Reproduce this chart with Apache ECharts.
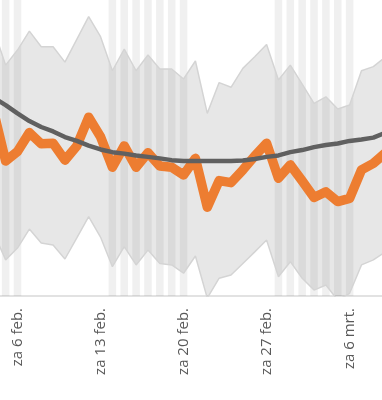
<!DOCTYPE html>
<html>
<head>
<meta charset="utf-8">
<script src="https://cdn.jsdelivr.net/npm/echarts@6/dist/echarts.min.js"></script>
<style>
  html, body { margin: 0; padding: 0; background: #fff; }
  #chart { width: 382px; height: 400px; }
</style>
</head>
<body>
<div id="chart"></div>
<script>
// dagen (4 feb t/m 9 mrt 2021)
const dates = [
  '2021-02-04', '2021-02-05', '2021-02-06', '2021-02-07', '2021-02-08', '2021-02-09',
  '2021-02-10', '2021-02-11', '2021-02-12', '2021-02-13', '2021-02-14', '2021-02-15',
  '2021-02-16', '2021-02-17', '2021-02-18', '2021-02-19', '2021-02-20', '2021-02-21',
  '2021-02-22', '2021-02-23', '2021-02-24', '2021-02-25', '2021-02-26', '2021-02-27',
  '2021-02-28', '2021-03-01', '2021-03-02', '2021-03-03', '2021-03-04', '2021-03-05',
  '2021-03-06', '2021-03-07', '2021-03-08', '2021-03-09'
];

// band: laagste en hoogste waarde
const lowValues = [
  21.3, 12.2, 16.2, 22.6, 17.9, 17.2, 12.5, 19.6, 26.8, 19.9, 9.9, 16.7,
  10.5, 15.5, 11.0, 10.5, 7.7, 13.5, -0.7, 6.0, 7.1, 11.0, 14.9, 18.9,
  6.5, 11.6, 6.0, 2.0, 3.7, -1.4, 0.9, 10.5, 12.2, 14.9
];
const highValues = [
  89.9, 78.0, 83.1, 89.5, 84.2, 84.2, 79.0, 86.7, 94.4, 87.6, 76.1, 83.4,
  76.1, 81.4, 76.7, 76.7, 73.3, 79.4, 61.7, 72.1, 70.5, 76.9, 80.8, 85.0,
  73.0, 78.0, 71.6, 65.1, 67.3, 63.2, 64.5, 76.1, 77.5, 80.7
];

// gemiddelde (grijze lijn)
const avgValues = [
  66.9, 64.5, 61.7, 59.1, 57.1, 55.6, 53.7, 52.4, 50.8, 49.5, 48.6, 48.1,
  47.5, 47.0, 46.5, 45.9, 45.6, 45.6, 45.6, 45.6, 45.6, 45.8, 46.3, 47.0,
  47.5, 48.6, 49.3, 50.3, 51.0, 51.5, 52.4, 52.9, 53.5, 55.1
];

// huidige waarde (oranje lijn)
const curValues = [
  62.2, 45.6, 48.8, 55.2, 51.4, 51.6, 45.9, 50.7, 60.4, 53.8, 43.5, 50.7,
  43.5, 48.4, 43.9, 43.5, 40.9, 46.5, 30.0, 39.0, 38.3, 42.6, 47.3, 51.6,
  39.8, 44.3, 38.9, 33.3, 35.2, 31.9, 33.0, 42.6, 44.8, 48.3
];

// gemarkeerde dagen (lichte verticale banen)
const stripeDates = [
  '2021-02-05', '2021-02-06',
  '2021-02-14', '2021-02-15', '2021-02-16', '2021-02-17', '2021-02-18', '2021-02-19', '2021-02-20',
  '2021-02-28', '2021-03-01', '2021-03-02', '2021-03-03', '2021-03-04', '2021-03-05', '2021-03-06'
];

const tickDates = ['2021-02-06', '2021-02-13', '2021-02-20', '2021-02-27', '2021-03-06'];
const tickLabels = ['za 6 feb.', 'za 13 feb.', 'za 20 feb.', 'za 27 feb.', 'za 6 mrt.'];

const origin = Date.parse('2021-02-06');
function dayOf(s) {
  return Math.round((Date.parse(s) - origin) / 86400000);
}

const tickDays = tickDates.map(dayOf);
const pairs = (vals) => dates.map((d, i) => [dayOf(d), vals[i]]);

const chart = echarts.init(document.getElementById('chart'));

// grijze band tussen laagste en hoogste waarde
function renderBand(params, api) {
  if (params.dataIndex !== 0) return;
  const top = dates.map((d, i) => api.coord([dayOf(d), highValues[i]]));
  const bottom = dates.map((d, i) => api.coord([dayOf(d), lowValues[i]])).reverse();
  return {
    type: 'polygon',
    shape: { points: top.concat(bottom) },
    style: { fill: 'rgba(0,0,0,0.095)' }
  };
}

chart.setOption({
  animation: false,
  grid: { left: 0, right: 0, top: 0, bottom: 104, outerBoundsMode: 'none' },
  xAxis: {
    type: 'value',
    min: -1.475,
    max: 30.73,
    splitLine: { show: false },
    axisTick: { show: false },
    axisLine: { lineStyle: { color: '#d9d9d9', width: 1.5 } },
    axisLabel: {
      customValues: tickDays,
      formatter: (v) => tickLabels[tickDays.indexOf(v)],
      rotate: 90,
      margin: 12,
      padding: [4, 0, 0, 0],
      fontSize: 15,
      color: '#595959',
      fontFamily: 'Open Sans'
    }
  },
  yAxis: { type: 'value', min: 0, max: 100, show: false },
  series: [
    {
      type: 'bar',
      silent: true,
      barWidth: 7.6,
      itemStyle: { color: 'rgba(0,0,0,0.06)' },
      data: stripeDates.map((d) => [dayOf(d), 100])
    },
    {
      type: 'custom',
      silent: true,
      clip: true,
      renderItem: renderBand,
      data: [[0, 0]]
    },
    {
      type: 'line',
      symbol: 'none',
      silent: true,
      lineStyle: { color: '#d4d4d4', width: 1.5 },
      data: pairs(lowValues)
    },
    {
      type: 'line',
      symbol: 'none',
      silent: true,
      lineStyle: { color: '#d4d4d4', width: 1.5 },
      data: pairs(highValues)
    },
    {
      type: 'line',
      symbol: 'none',
      lineStyle: { color: '#ed7d31', width: 9.5, join: 'round', cap: 'round' },
      data: pairs(curValues)
    },
    {
      type: 'line',
      symbol: 'none',
      lineStyle: { color: '#606060', width: 4.5, join: 'round', cap: 'round' },
      data: pairs(avgValues)
    }
  ]
});
</script>
</body>
</html>
